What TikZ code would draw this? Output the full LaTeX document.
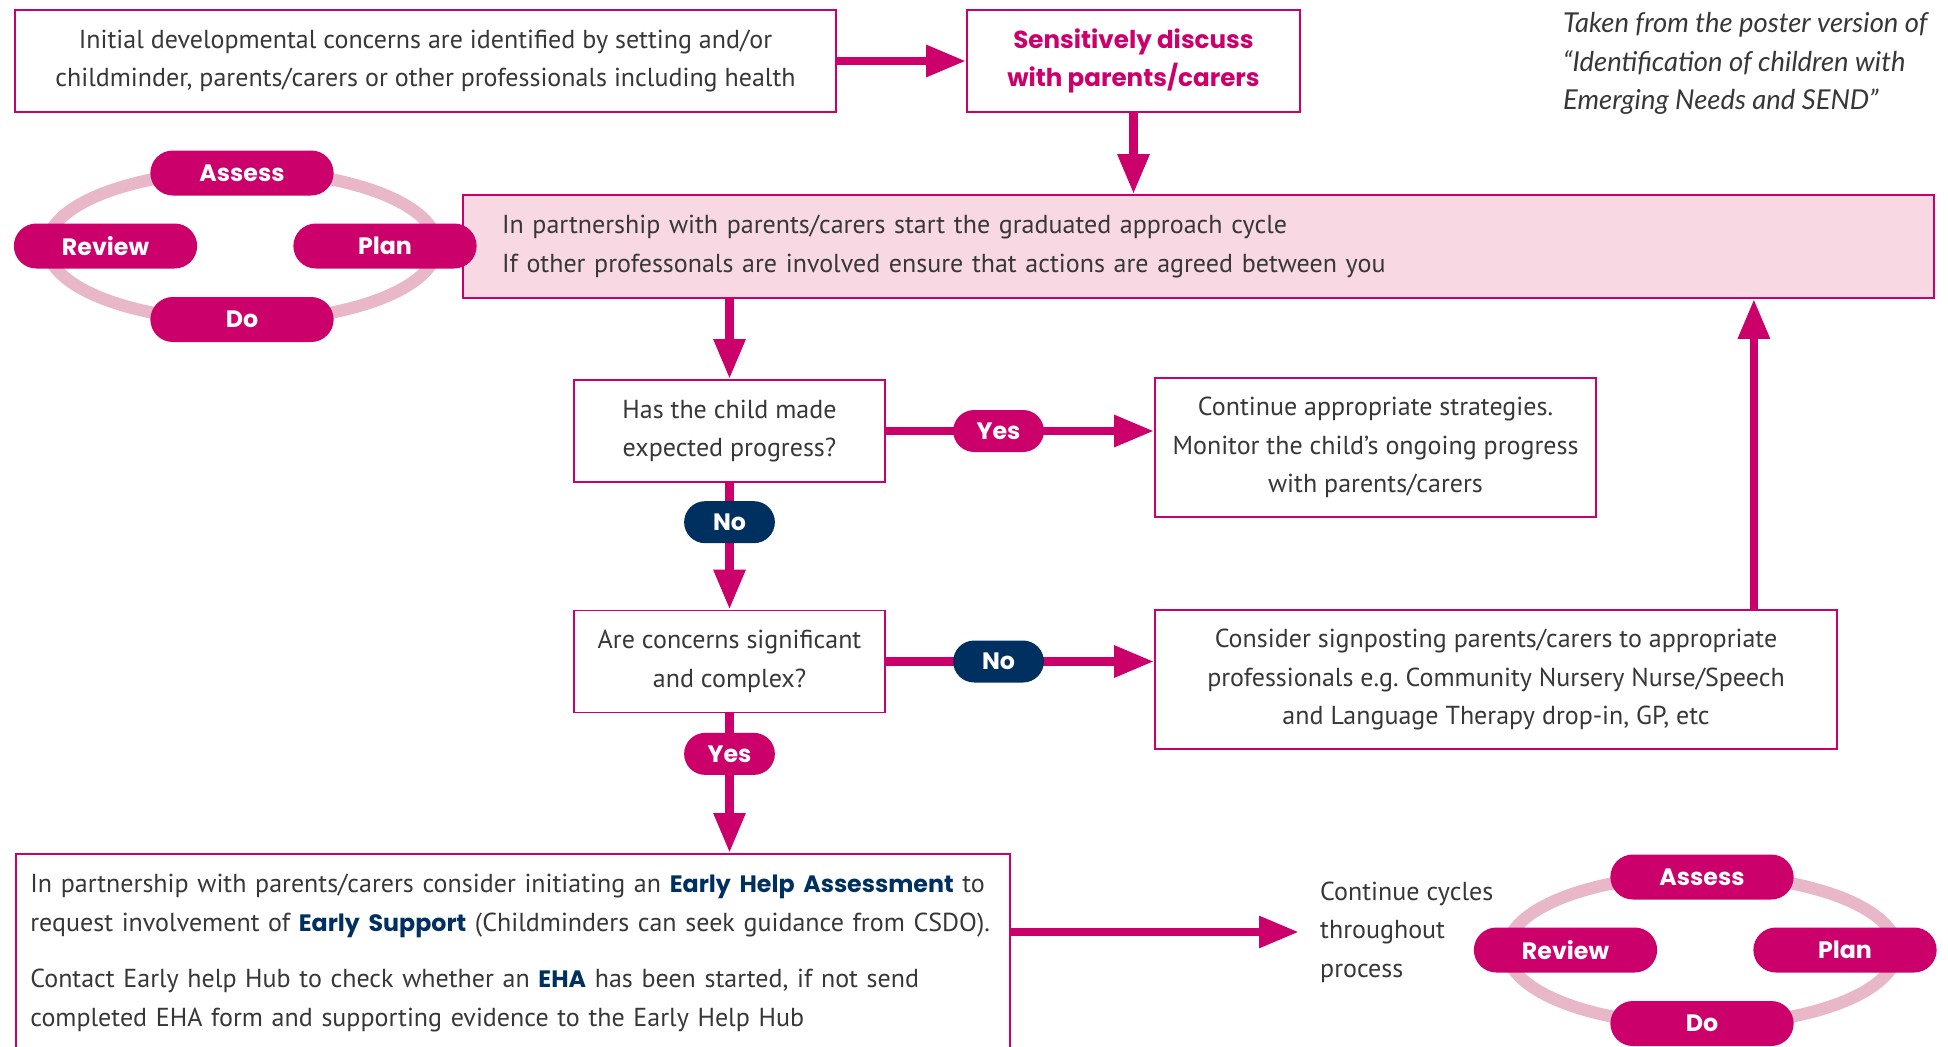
\documentclass[tikz,border=0pt]{standalone}
\usepackage{fontspec}
\setmainfont{PT Sans}
\newfontfamily\pillfont{Poppins}
\newfontfamily\notefont{Lato}
\usetikzlibrary{arrows.meta,shapes.misc}

\definecolor{magentab}{RGB}{204,0,107}
\definecolor{navyb}{RGB}{0,48,95}
\definecolor{pinkfill}{RGB}{247,216,227}
\definecolor{ringpink}{RGB}{232,184,201}
\definecolor{bodygrey}{RGB}{55,55,55}
\newcommand{\ehakey}[1]{{\pillfont\bfseries\color{navyb}\fontsize{13.5}{22}\selectfont #1}}

\begin{document}
\begin{tikzpicture}[>={Triangle[length=0.8cm,width=0.6cm]},
  font=\fontsize{14.8}{22}\selectfont, text=bodygrey,
  flowbox/.style={draw=magentab, line width=1pt, align=center, inner sep=0pt},
  flow/.style={->, draw=magentab, line width=5pt},
  ring/.style={draw=ringpink, line width=7pt},
  pillfont/.style={font=\pillfont\bfseries\fontsize{13.5}{15}\selectfont},
  stagepill/.style={rounded rectangle, fill=magentab, text=white, pillfont,
    minimum width=3.9cm, minimum height=0.9cm},
  answer/.style={rounded rectangle, text=white, pillfont,
    minimum width=2.05cm, minimum height=0.84cm}]
  \useasboundingbox (0,0) rectangle (38.96,-20.92);

  \node (concern) at (8.51,-1.22) [flowbox, minimum width=16.42cm, minimum height=2.04cm]
    {Initial developmental concerns are identified by setting and/or\\childminder, parents/carers or other professionals including health};
  \node (discuss) at (22.67,-1.22) [flowbox, minimum width=6.66cm, minimum height=2.04cm,
    text=magentab, font=\pillfont\bfseries\fontsize{14}{22}\selectfont]
    {Sensitively discuss\\with parents/carers};
  \node (source) at (31.14,-1.27) [anchor=west, align=left,
    font=\notefont\itshape\fontsize{15.6}{22}\selectfont]
    {Taken from the poster version of\\“Identification of children with\\Emerging Needs and SEND”};
  \node (cycle) at (23.97,-4.93) [flowbox, fill=pinkfill, minimum width=29.42cm,
    minimum height=2.06cm, text width=27.86cm, align=left]
    {In partnership with parents/carers start the graduated approach cycle\\If other professonals are involved ensure that actions are agreed between you};

  % assess / plan / do / review rings
  \foreach \cx/\cy/\nm in {4.84/-4.92/tl, 34.04/-19.0/br}{
    \draw[ring] (\cx,\cy) ellipse (3.9 and 1.5);
    \node (\nm-assess) at (\cx,\cy+1.46) [stagepill] {Assess};
    \node (\nm-review) at (\cx-2.73,\cy) [stagepill] {Review};
    \node (\nm-plan) at (\cx+2.86,\cy) [stagepill] {Plan};
    \node (\nm-do) at (\cx,\cy-1.47) [stagepill] {Do};
  }

  \node (progress) at (14.59,-8.62) [flowbox, minimum width=6.22cm, minimum height=2.04cm]
    {Has the child made\\expected progress?};
  \node (continue) at (27.51,-8.95) [flowbox, minimum width=8.82cm, minimum height=2.78cm]
    {Continue appropriate strategies.\\Monitor the child's ongoing progress\\with parents/carers};
  \node (complex) at (14.59,-13.23) [flowbox, minimum width=6.22cm, minimum height=2.04cm]
    {Are concerns significant\\and complex?};
  \node (signpost) at (29.92,-13.59) [flowbox, minimum width=13.64cm, minimum height=2.78cm]
    {Consider signposting parents/carers to appropriate\\professionals e.g.\ Community Nursery Nurse/Speech\\and Language Therapy drop-in, GP, etc};
  \node (eha) at (0.30,-17.06) [flowbox, anchor=north west, text width=19.3cm, align=left,
    inner xsep=0.29cm, inner ysep=0.4cm]
    {In partnership with parents/carers consider initiating an \ehakey{Early Help Assessment} to\\
     request involvement of \ehakey{Early Support} (Childminders can seek guidance from CSDO).\\[0.36cm]
     Contact Early help Hub to check whether an \ehakey{EHA} has been started, if not send\\
     completed EHA form and supporting evidence to the Early Help Hub};
  \node (cyclenote) at (26.28,-18.64) [anchor=west, align=left]
    {Continue cycles\\throughout\\process};

  \draw[flow] (concern) -- (discuss);
  \draw[flow] (discuss) -- (discuss |- cycle.north);
  \draw[flow] (cycle.south -| progress) -- (progress);
  \draw[flow] (progress) -- node[answer, fill=magentab, pos=0.42] {Yes} (continue.west |- progress);
  \draw[flow] (progress) -- node[answer, fill=navyb, pos=0.31] {No} (complex);
  \draw[flow] (complex) -- node[answer, fill=navyb, pos=0.42] {No} (signpost.west |- complex);
  \draw[flow] (complex) -- node[answer, fill=magentab, pos=0.29] {Yes} (complex |- eha.north);
  \draw[flow] ([xshift=-1.68cm]signpost.north east) -- ([xshift=-1.68cm]signpost.north east |- cycle.south);
  \draw[flow, shorten >=0.3cm] (cyclenote.west -| eha.east) -- (cyclenote.west);
\end{tikzpicture}
\end{document}
